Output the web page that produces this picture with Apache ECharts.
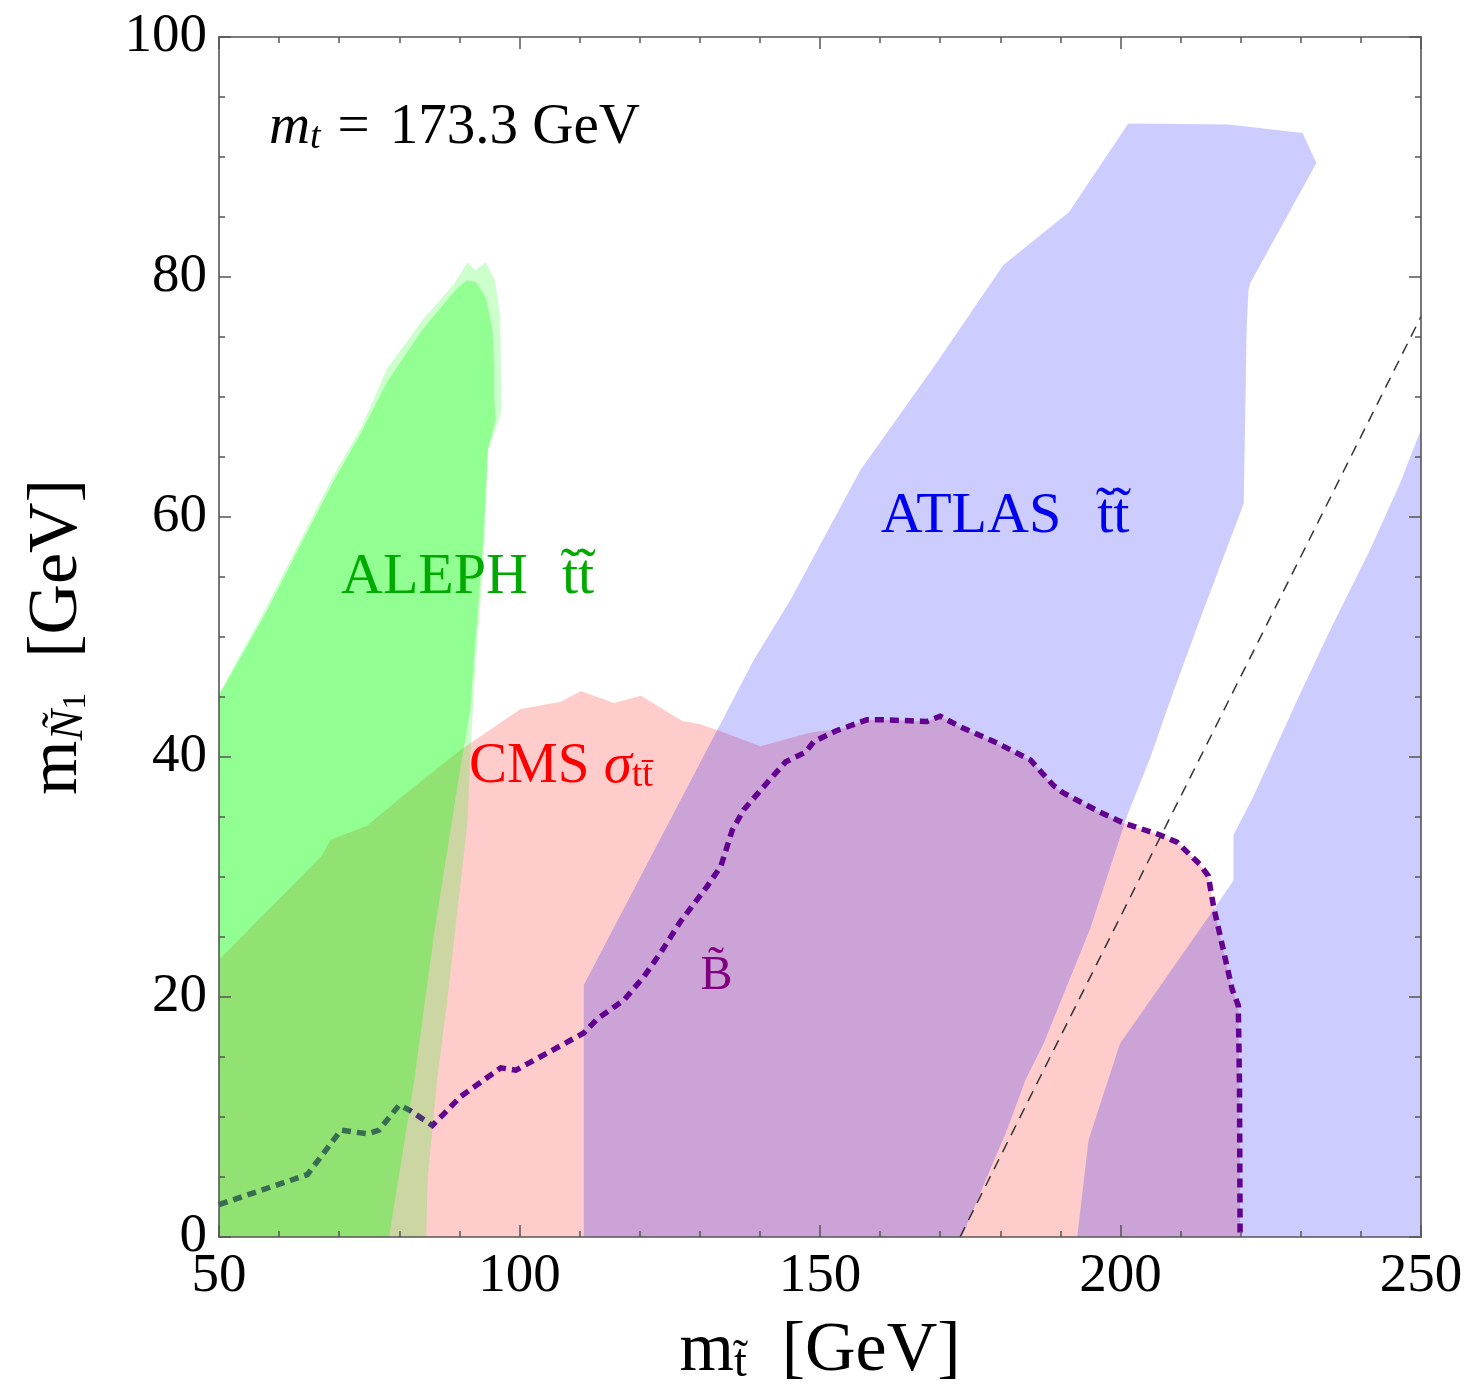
<!DOCTYPE html>
<html><head><meta charset="utf-8">
<script src="https://cdn.jsdelivr.net/npm/echarts@6/dist/echarts.min.js"></script>
<style>html,body{margin:0;padding:0;background:#fff}#chart{width:1473px;height:1396px}</style>
</head><body><div id="chart"></div>
<script>
// ---------- data ----------
const xRange = [50, 250];
const yRange = [0, 100];

const cmsRegion = [[50,0],[50,23.1],[67,31.7],[68.6,33.1],[74.7,34.3],[79.7,36.4],[90.2,40.6],[100.2,44],[106.9,44.6],[110.2,45.5],[115.7,44.5],[120.2,45.1],[127.1,43],[129.9,42.75],[132.9,42.25],[140.1,40.9],[148.1,42],[150.6,42.2],[152.8,42.2],[157.8,43.1],[160.6,43.1],[167.8,42.96],[170,43.4],[173.4,42.5],[178.9,41.3],[181.7,40.6],[185,39.75],[188.9,37.6],[190.5,37],[196.6,35.4],[200.5,34.5],[206.6,33.5],[209.4,32.9],[213.3,31],[214.6,30.1],[215.5,27.5],[218.6,20.6],[219.6,19.3],[219.8,12.6],[219.9,0]];

const atlasBandA = [[110.7,0],[110.7,21],[132.9,42.25],[139,48.1],[145.1,53.1],[156.7,63.9],[169.2,72.7],[180.5,81],[191.4,85.4],[201.3,92.8],[218,92.7],[230.3,92],[232.6,89.5],[221.6,79.5],[221.3,78.9],[221,75.9],[220.5,61.1],[213.8,52.25],[208.3,44.75],[205,40],[201.1,35.1],[195,25.75],[187.2,16.1],[184.2,13.1],[181.1,8.9],[178.3,5.6],[173.6,0]];

const atlasBandB = [[192.8,0],[194.7,8.1],[199.9,16.1],[215.5,27.3],[218.8,29.7],[218.8,33.5],[222.1,36.7],[229.4,44.75],[234.9,50.6],[241.5,57.25],[246.5,62.8],[250,67.3],[250,0]];

const alephOuter = [[50,0],[50,45.3],[58,52.6],[63.6,58.1],[69.2,63.6],[73.6,67.4],[78,72.4],[84,76.5],[89.1,79.4],[91.3,81.2],[92.7,80.6],[94.4,81.2],[95.9,79.7],[96.8,76.7],[96.9,72.7],[97,68.9],[96,67.3],[94.7,65.5],[94.4,59.9],[93.6,53.5],[92.6,47.2],[91.9,40.8],[91.3,34.4],[88,19.75],[86.3,13.1],[84.7,4.75],[84.5,0]];

const alephInner = [[50,0],[50,45.1],[58.1,52.3],[63.6,57.7],[69.2,63.1],[73.6,66.95],[78,71.3],[84,75.7],[89.7,79.1],[91.3,79.7],[92.7,79.6],[94.4,78.3],[95.5,75.5],[95.8,72.7],[95.8,69.8],[96,68.1],[94.8,65.7],[94.6,64.4],[93.8,56.7],[93,52],[91.8,44],[89.3,36.4],[85.8,25.3],[82.5,13.1],[78.3,0]];

const binoCurve = [[50,2.7],[64.7,5.2],[65.3,5.6],[70.3,8.9],[74.7,8.6],[76.6,8.9],[80,11],[81.6,10.6],[85.5,9.3],[87.5,10.3],[90.2,11.7],[93,12.7],[96.9,14.1],[99.4,13.9],[110.7,17],[113,18.2],[117.4,19.75],[120.7,21.7],[123.5,23.7],[126.8,26.3],[131.2,29.2],[133.5,30.9],[135.4,33.9],[137.3,35.6],[141.8,38.2],[144.3,39.6],[147.6,40.4],[149,41.3],[152.8,42.2],[157.8,43.1],[160.6,43.1],[167.8,42.96],[170,43.4],[173.4,42.5],[178.9,41.3],[181.7,40.6],[185,39.75],[188.9,37.6],[190.5,37],[196.6,35.4],[200.5,34.5],[206.6,33.5],[209.4,32.9],[213.3,31],[214.6,30.1],[215.5,27.5],[218.6,20.6],[219.6,19.3],[219.8,12.6],[219.9,0]];

const topMass = 173.3;
const kinematicLine = [[topMass,0],[250,250-topMass]];

// ---------- chart ----------
const FONT = 'Liberation Serif';
function regionSeries(name, pts, fill, z) {
  return {
    name, type: 'custom', coordinateSystem: 'cartesian2d', xAxisIndex: 0, yAxisIndex: 0,
    data: pts, clip: true, silent: true, z,
    encode: { x: 0, y: 1 },
    renderItem(params, api) {
      if (params.dataIndex !== 0) return null;
      const poly = pts.map(p => api.coord(p));
      return { type: 'polygon', shape: { points: poly }, style: { fill } };
    }
  };
}
function labelSeries(x, y, text, rich, z) {
  return {
    type: 'custom', coordinateSystem: 'cartesian2d', xAxisIndex: 0, yAxisIndex: 0,
    data: [[x, y]], silent: true, z, clip: false,
    renderItem(params, api) {
      const p = api.coord([api.value(0), api.value(1)]);
      return { type: 'text', x: p[0], y: p[1],
        style: { text, rich, align: 'left', verticalAlign: 'middle' } };
    }
  };
}
const tickStyle = { color: '#555', width: 1.5 };
const axisCommon = (pos, showLabel) => ({
  type: 'value', position: pos, z: 10,
  axisLine: { show: true, onZero: false, lineStyle: { color: '#555', width: 1.6 } },
  axisTick: { show: true, inside: true, length: 12, lineStyle: tickStyle },
  splitLine: { show: false },
  axisLabel: { show: showLabel, fontFamily: FONT, fontSize: 55, color: '#000', margin: 12 }
});

const xName = '{m|m}{s|t\u0303}{n|  [GeV]}';
const yName = '{m|m}{s|\u00D1}{ss|1}{n|  [GeV]}';

const option = {
  animation: false,
  backgroundColor: '#fff',
  grid: { left: 219, right: 52, top: 37, bottom: 159, containLabel: false },
  xAxis: [
    Object.assign(axisCommon('bottom', true), {
      min: xRange[0], max: xRange[1], interval: 50,
      minorTick: { show: true, splitNumber: 5, length: 6, lineStyle: tickStyle },
      name: xName, nameLocation: 'middle', nameGap: 80,
      nameTextStyle: { rich: {
        m: { fontFamily: FONT, fontSize: 70, lineHeight: 70, color: '#000' },
        s: { fontFamily: FONT, fontSize: 46, lineHeight: 40, verticalAlign: 'bottom', color: '#000' },
        n: { fontFamily: FONT, fontSize: 70, lineHeight: 70, color: '#000' } } }
    }),
    Object.assign(axisCommon('top', false), {
      min: xRange[0], max: xRange[1], interval: 50,
      minorTick: { show: true, splitNumber: 5, length: 6, lineStyle: tickStyle }
    })
  ],
  yAxis: [
    Object.assign(axisCommon('left', true), {
      min: yRange[0], max: yRange[1], interval: 20,
      minorTick: { show: true, splitNumber: 4, length: 6, lineStyle: tickStyle },
      name: yName, nameLocation: 'middle', nameGap: 126, nameRotate: 90,
      nameTextStyle: { rich: {
        m: { fontFamily: FONT, fontSize: 70, lineHeight: 70, color: '#000' },
        s: { fontFamily: FONT, fontStyle: 'italic', fontSize: 46, lineHeight: 44, verticalAlign: 'bottom', color: '#000' },
        ss: { fontFamily: FONT, fontSize: 34, lineHeight: 22, verticalAlign: 'bottom', color: '#000' },
        n: { fontFamily: FONT, fontSize: 70, lineHeight: 70, color: '#000' } } }
    }),
    Object.assign(axisCommon('right', false), {
      min: yRange[0], max: yRange[1], interval: 20,
      minorTick: { show: true, splitNumber: 4, length: 6, lineStyle: tickStyle }
    })
  ],
  series: [
    regionSeries('CMS', cmsRegion, 'rgba(255,0,0,0.2)', 1),
    regionSeries('ATLAS A', atlasBandA, 'rgba(0,0,255,0.2)', 2),
    regionSeries('ATLAS B', atlasBandB, 'rgba(0,0,255,0.2)', 2),
    { name: 'Bino', type: 'line', data: binoCurve, showSymbol: false, symbol: 'none', z: 3, silent: true,
      lineStyle: { color: '#62008f', width: 5.5, type: [9, 6], cap: 'butt', join: 'miter' } },
    regionSeries('ALEPH outer', alephOuter, 'rgba(0,255,0,0.2)', 4),
    regionSeries('ALEPH inner', alephInner, 'rgba(0,255,0,0.29)', 5),
    { name: 'kinematic', type: 'line', data: kinematicLine, showSymbol: false, symbol: 'none', z: 6, silent: true,
      lineStyle: { color: '#333', width: 1.5, type: [11, 8] } },
    labelSeries(58.3, 92.4, '{mi|m}{ti|t}{eq|=}{n|173.3 GeV}', {
      mi: { fontFamily: FONT, fontStyle: 'italic', fontSize: 57, lineHeight: 57, fill: '#000' },
      ti: { fontFamily: FONT, fontStyle: 'italic', fontSize: 38, lineHeight: 30, verticalAlign: 'bottom', fill: '#000' },
      eq: { fontFamily: FONT, fontSize: 57, lineHeight: 57, fill: '#000', padding: [0, 20, 0, 17] },
      n: { fontFamily: FONT, fontSize: 57, lineHeight: 57, fill: '#000' } }, 8),
    labelSeries(70.3, 54.9, '{a|ALEPH}{t|t\u0303t\u0303}', {
      a: { fontFamily: FONT, fontSize: 58, lineHeight: 58, fill: '#00aa00' },
      t: { fontFamily: FONT, fontSize: 58, lineHeight: 58, fill: '#00aa00', padding: [0, 0, 0, 34] } }, 8),
    labelSeries(160.1, 60, '{a|ATLAS}{t|t\u0303t\u0303}', {
      a: { fontFamily: FONT, fontSize: 58, lineHeight: 58, fill: '#0000f0' },
      t: { fontFamily: FONT, fontSize: 58, lineHeight: 58, fill: '#0000f0', padding: [0, 0, 0, 36] } }, 8),
    labelSeries(91.6, 39.2, '{a|CMS }{s|\u03C3}{b|tt\u0304}', {
      a: { fontFamily: FONT, fontSize: 57, lineHeight: 57, fill: '#ff0000' },
      s: { fontFamily: FONT, fontStyle: 'italic', fontSize: 57, lineHeight: 57, fill: '#ff0000' },
      b: { fontFamily: FONT, fontSize: 38, lineHeight: 28, verticalAlign: 'bottom', fill: '#ff0000' } }, 8),
    labelSeries(130.1, 21.7, '{a|B\u0303}', {
      a: { fontFamily: FONT, fontSize: 48, lineHeight: 48, fill: '#800080' } }, 8)
  ]
};
const chart = echarts.init(document.getElementById('chart'), null, { renderer: 'canvas' });
chart.setOption(option);
</script></body></html>
